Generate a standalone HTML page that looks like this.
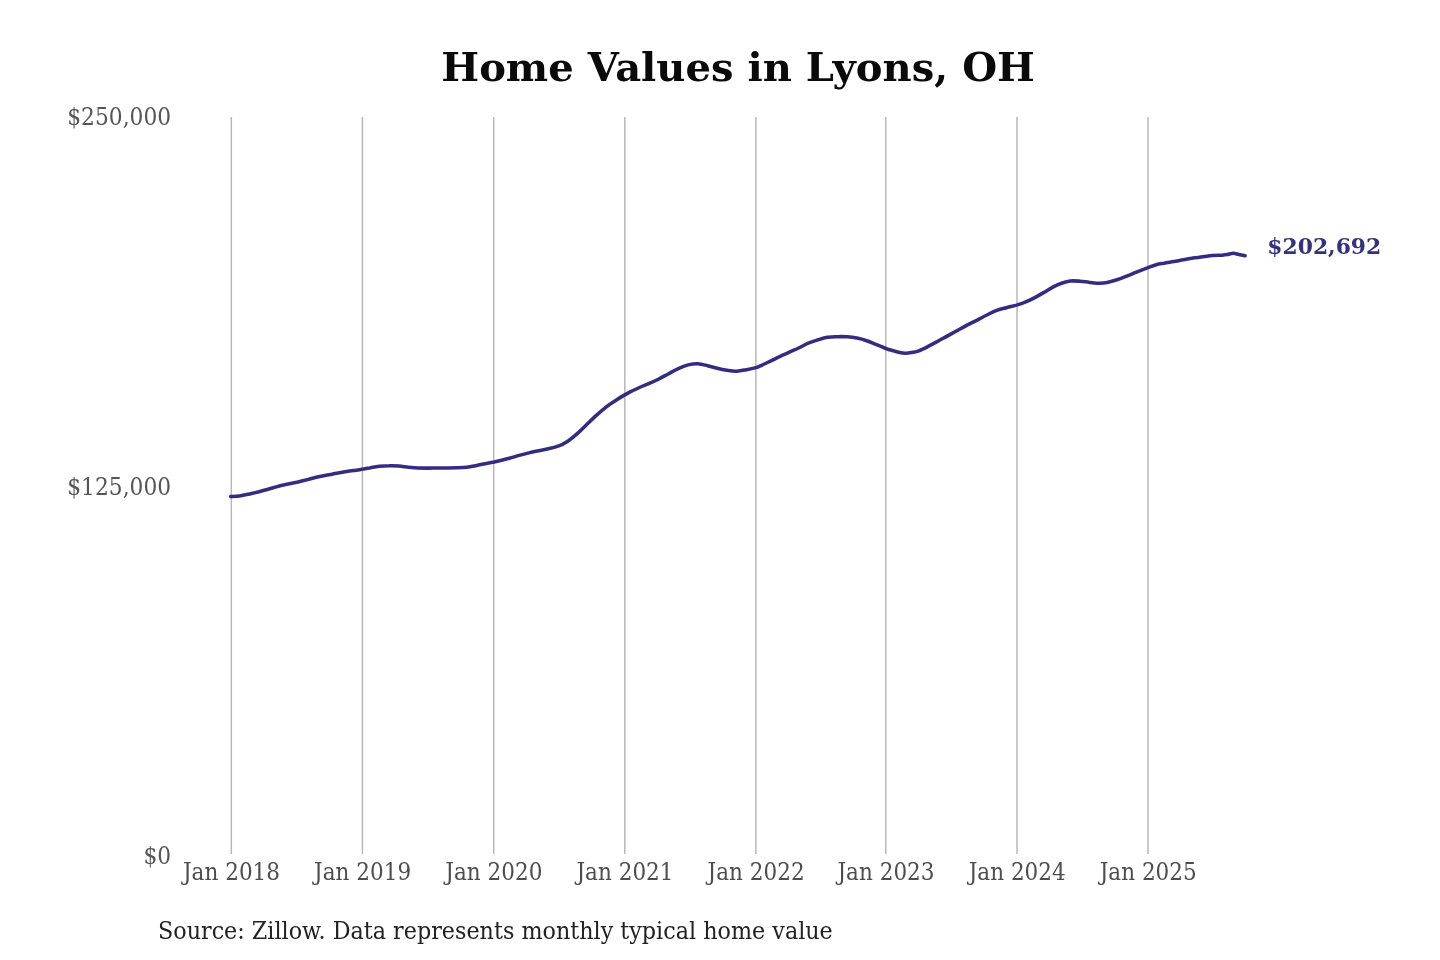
<!DOCTYPE html>
<html lang="en"><head><meta charset="utf-8"><title>Home Values in Lyons, OH</title>
<style>
html,body{margin:0;padding:0;background:#fff;}
body{width:1440px;height:960px;overflow:hidden;}
svg{display:block;font-family:"DejaVu Serif","Liberation Serif",serif;}
.title{font-size:39px;font-weight:bold;fill:#0a0a0a;text-anchor:middle;}
.grid line{stroke:#b8b8b8;stroke-width:1.5;}
.yl text{font-size:22px;fill:#555;text-anchor:end;}
.xl text{font-size:22px;fill:#4d4d4d;text-anchor:middle;}
.src{font-size:22px;fill:#222;}
.val{font-size:22px;font-weight:bold;fill:#34327f;}
.ln{fill:none;stroke:#332d82;stroke-width:3.55;stroke-linecap:round;stroke-linejoin:round;}
</style></head><body>
<svg width="1440" height="960" viewBox="0 0 1440 960">
<rect width="1440" height="960" fill="#ffffff"/>
<text class="title" transform="translate(738.1 80.7) scale(1.028 0.99)">Home Values in Lyons, OH</text>
<g class="grid"><line x1="231.3" y1="117" x2="231.3" y2="854" /><line x1="362.4" y1="117" x2="362.4" y2="854" /><line x1="493.7" y1="117" x2="493.7" y2="854" /><line x1="624.8" y1="117" x2="624.8" y2="854" /><line x1="755.9" y1="117" x2="755.9" y2="854" /><line x1="885.8" y1="117" x2="885.8" y2="854" /><line x1="1017.0" y1="117" x2="1017.0" y2="854" /><line x1="1148.0" y1="117" x2="1148.0" y2="854" /></g>
<g class="yl"><text transform="translate(171.1 124.9) scale(0.99 1.09)">$250,000</text><text transform="translate(171.1 494.5) scale(0.99 1.09)">$125,000</text><text transform="translate(171.1 864.1) scale(0.99 1.09)">$0</text></g>
<g class="xl"><text transform="translate(231.5 879.7) scale(0.98 1.09)">Jan 2018</text><text transform="translate(362.6 879.7) scale(0.98 1.09)">Jan 2019</text><text transform="translate(493.9 879.7) scale(0.98 1.09)">Jan 2020</text><text transform="translate(625.0 879.7) scale(0.98 1.09)">Jan 2021</text><text transform="translate(756.1 879.7) scale(0.98 1.09)">Jan 2022</text><text transform="translate(886.0 879.7) scale(0.98 1.09)">Jan 2023</text><text transform="translate(1017.2 879.7) scale(0.98 1.09)">Jan 2024</text><text transform="translate(1148.2 879.7) scale(0.98 1.09)">Jan 2025</text></g>
<path class="ln" transform="translate(0 0.6)" d="M230.6 495.9 C232.1 495.8 236.5 495.7 239.6 495.3 C242.7 494.9 246.1 494.1 249.3 493.4 C252.5 492.7 255.8 492.0 259.0 491.2 C262.2 490.4 265.6 489.3 268.8 488.4 C272.1 487.5 275.3 486.4 278.5 485.6 C281.7 484.8 285.0 484.2 288.2 483.5 C291.4 482.8 294.7 482.1 297.9 481.4 C301.1 480.6 304.4 479.8 307.6 479.0 C310.9 478.2 314.1 477.2 317.4 476.4 C320.6 475.6 323.9 475.0 327.1 474.4 C330.3 473.8 333.6 473.3 336.8 472.7 C340.0 472.1 343.3 471.5 346.5 471.0 C349.7 470.5 353.4 470.0 356.2 469.6 C358.9 469.2 360.8 468.8 363.0 468.5 C365.2 468.1 367.0 467.7 369.7 467.3 C372.4 466.8 376.1 466.0 379.4 465.7 C382.6 465.4 385.9 465.2 389.2 465.2 C392.4 465.1 395.7 465.2 398.9 465.4 C402.1 465.6 405.4 466.3 408.6 466.6 C411.8 466.9 415.1 467.2 418.3 467.4 C421.6 467.5 424.9 467.5 428.1 467.5 C431.4 467.5 434.6 467.3 437.8 467.3 C441.0 467.3 444.3 467.3 447.5 467.3 C450.7 467.3 454.0 467.3 457.2 467.2 C460.4 467.1 463.6 467.0 466.9 466.6 C470.1 466.2 473.4 465.5 476.7 464.9 C479.9 464.3 483.5 463.5 486.4 462.9 C489.3 462.3 492.0 461.8 494.2 461.4 C496.4 460.9 497.2 460.8 499.7 460.2 C502.2 459.6 506.1 458.6 509.4 457.7 C512.6 456.8 516.0 455.7 519.2 454.8 C522.5 453.9 525.7 453.1 528.9 452.3 C532.1 451.5 535.4 450.8 538.6 450.1 C541.8 449.4 545.0 448.9 548.3 448.1 C551.5 447.4 554.9 446.9 558.1 445.6 C561.4 444.4 564.6 442.7 567.8 440.6 C571.0 438.5 574.3 435.7 577.5 432.8 C580.7 429.9 584.0 426.6 587.2 423.5 C590.4 420.4 593.6 417.2 596.9 414.3 C600.1 411.4 603.5 408.5 606.7 406.0 C610.0 403.5 613.7 401.3 616.4 399.5 C619.1 397.7 620.8 396.6 623.0 395.3 C625.2 394.0 627.0 392.9 629.7 391.5 C632.4 390.1 636.1 388.4 639.4 386.9 C642.6 385.4 646.0 384.2 649.2 382.8 C652.5 381.4 655.7 380.0 658.9 378.4 C662.1 376.8 665.4 374.8 668.6 373.1 C671.8 371.4 675.0 369.5 678.3 368.0 C681.5 366.5 684.9 365.1 688.1 364.3 C691.4 363.5 694.6 363.0 697.8 363.1 C701.0 363.2 704.3 364.3 707.5 365.1 C710.7 365.9 714.0 366.9 717.2 367.7 C720.4 368.5 723.6 369.2 726.9 369.7 C730.1 370.2 733.5 370.7 736.7 370.6 C740.0 370.5 743.2 369.7 746.4 369.1 C749.6 368.5 753.7 367.6 755.9 367.0 C758.1 366.4 757.5 366.6 759.7 365.6 C762.0 364.6 766.1 362.6 769.4 361.0 C772.6 359.4 776.0 357.7 779.2 356.2 C782.5 354.7 785.7 353.3 788.9 351.8 C792.1 350.3 795.4 348.9 798.6 347.4 C801.8 345.9 805.0 344.0 808.3 342.6 C811.5 341.2 814.9 340.2 818.1 339.2 C821.4 338.2 824.6 337.2 827.8 336.7 C831.0 336.2 834.3 336.2 837.5 336.1 C840.7 336.0 844.0 336.0 847.2 336.2 C850.4 336.5 853.6 336.9 856.9 337.5 C860.1 338.1 863.5 339.0 866.7 340.1 C870.0 341.2 873.2 342.7 876.4 344.0 C879.6 345.3 883.7 347.0 885.9 347.9 C888.1 348.7 887.8 348.7 889.7 349.2 C891.6 349.8 894.9 350.7 897.5 351.3 C900.1 351.9 902.7 352.6 905.3 352.7 C907.9 352.8 910.8 352.1 913.1 351.7 C915.4 351.3 916.3 351.2 918.9 350.2 C921.5 349.2 925.4 347.2 928.6 345.6 C931.8 344.0 935.0 342.2 938.3 340.4 C941.5 338.6 944.9 336.8 948.1 335.0 C951.4 333.2 954.6 331.5 957.8 329.7 C961.0 327.9 964.3 326.0 967.5 324.3 C970.7 322.6 974.0 321.1 977.2 319.5 C980.4 317.9 983.6 316.0 986.9 314.4 C990.1 312.8 993.5 310.9 996.7 309.7 C1000.0 308.5 1003.1 308.0 1006.4 307.1 C1009.7 306.2 1013.5 305.3 1016.5 304.5 C1019.5 303.6 1021.6 303.0 1024.6 301.8 C1027.6 300.6 1031.1 299.0 1034.3 297.3 C1037.5 295.6 1040.8 293.7 1044.0 291.8 C1047.2 289.9 1050.9 287.5 1053.8 286.0 C1056.7 284.5 1058.8 283.5 1061.5 282.6 C1064.2 281.7 1067.2 280.7 1070.3 280.4 C1073.4 280.1 1076.8 280.4 1080.0 280.6 C1083.2 280.8 1086.5 281.5 1089.7 281.8 C1092.9 282.1 1096.5 282.6 1099.4 282.6 C1102.3 282.6 1104.3 282.5 1107.2 281.9 C1110.1 281.3 1113.7 280.3 1116.9 279.2 C1120.2 278.1 1123.5 276.8 1126.7 275.5 C1130.0 274.2 1132.9 272.9 1136.4 271.5 C1140.0 270.1 1144.7 268.3 1148.0 267.1 C1151.3 265.9 1153.5 264.9 1156.2 264.1 C1158.9 263.3 1161.1 263.1 1164.0 262.6 C1166.9 262.0 1170.5 261.5 1173.8 260.9 C1177.0 260.3 1180.3 259.8 1183.5 259.2 C1186.7 258.6 1190.0 258.0 1193.2 257.5 C1196.4 257.0 1199.7 256.7 1202.9 256.2 C1206.1 255.8 1209.3 255.2 1212.6 254.9 C1215.8 254.6 1220.0 254.8 1222.4 254.6 C1224.8 254.4 1225.4 254.3 1227.2 254.0 C1229.0 253.7 1231.3 252.7 1233.3 252.7 C1235.2 252.7 1236.9 253.5 1238.9 253.9 C1240.9 254.3 1244.1 255.0 1245.1 255.2"/>
<text class="val" transform="translate(1267.3 253.7) scale(0.993 1.04)">$202,692</text>
<text class="src" transform="translate(158 939) scale(1.0124 1.10)">Source: Zillow. Data represents monthly typical home value</text>
</svg>
</body></html>
